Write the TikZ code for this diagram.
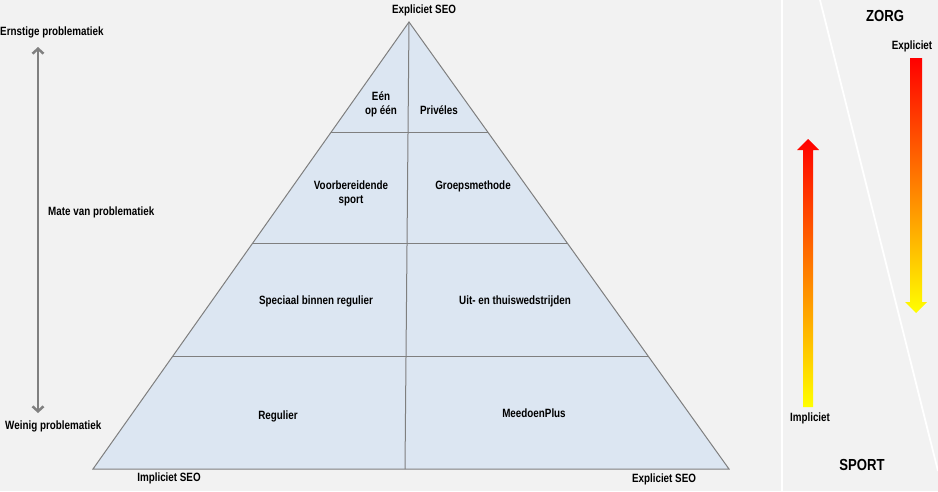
\documentclass[tikz,border=0pt]{standalone}
\usepackage{fontspec}
\setmainfont{Liberation Sans}[FakeStretch=0.82]
\usetikzlibrary{arrows.meta,calc}
\definecolor{bg}{HTML}{F2F2F2}
\definecolor{pyfill}{HTML}{DCE6F2}
\definecolor{pyline}{HTML}{7F7F7F}
\definecolor{arrgray}{HTML}{808080}
\begin{document}
\begin{tikzpicture}[x=1pt,y=-1pt,
  lbl/.style={font=\bfseries\fontsize{12}{14}\selectfont, inner sep=0pt, align=center, text=black},
  big/.style={font=\bfseries\fontsize{16}{18}\selectfont, inner sep=0pt, text=black},
  pline/.style={draw=pyline, line width=1pt},
  grad/.style={top color=red, bottom color=yellow, middle color=orange}]
\fill[bg] (0,0) rectangle (938,491);
\useasboundingbox (0,0) rectangle (938,491);
% white separators
\draw[white, line width=2.2pt] (782,0) -- (782,491);
\draw[white, line width=1.8pt] (820,0) -- (938,471);
% pyramid
\coordinate (A) at (409,22);
\coordinate (BL) at (93,469);
\coordinate (BR) at (729,469);
\coordinate (BC) at (405,469);
\fill[pyfill] (A) -- (BL) -- (BR) -- cycle;
\draw[pline] ($(A)!0.2483!(BL)$) -- ($(A)!0.2483!(BR)$);
\draw[pline] ($(A)!0.4966!(BL)$) -- ($(A)!0.4966!(BR)$);
\draw[pline] ($(A)!0.7472!(BL)$) -- ($(A)!0.7472!(BR)$);
\draw[pline] (A) -- (BC);
\draw[pline, line join=miter] (A) -- (BL) -- (BR) -- cycle;
% pyramid labels
\node[lbl] (een) at (381,104) {Eén\\op één};
\node[lbl] (prive) at (439,110) {Privéles};
\node[lbl] (voorb) at (351,193) {Voorbereidende\\sport};
\node[lbl] (groep) at (473,186) {Groepsmethode};
\node[lbl] (spec) at (316,301) {Speciaal binnen regulier};
\node[lbl] (uit) at (515,301) {Uit- en thuiswedstrijden};
\node[lbl] (reg) at (278,416) {Regulier};
\node[lbl] (meedoen) at (534,413) {MeedoenPlus};
\node[lbl] (topseo) at (424,10) {Expliciet SEO};
\node[lbl] (implseo) at (169,478) {Impliciet SEO};
\node[lbl] (explseo) at (664,479) {Expliciet SEO};
% left scale
\node[lbl, anchor=west] (ernst) at (0,32) {Ernstige problematiek};
\node[lbl, anchor=west] (mate) at (48,212) {Mate van problematiek};
\node[lbl, anchor=west] (weinig) at (5,426) {Weinig problematiek};
\coordinate (lt) at (38,47);
\coordinate (lb) at (38,413);
\draw[arrgray, line width=2.5pt, {Straight Barb[length=5pt,width=11pt]}-{Straight Barb[length=5pt,width=11pt]}] (lt) -- (lb);
% right side
\node[big] (zorg) at (885,16) {ZORG};
\node[big] (sport) at (862,465) {SPORT};
\node[lbl] (impl) at (810,418) {Impliciet};
\node[lbl] (expl) at (912,46) {Expliciet};
\shade[grad] (803,407) -- (803,150) -- (797,150) -- (808,139) -- (819,150) -- (813,150) -- (813,407) -- cycle;
\shade[grad] (910,58) -- (922,58) -- (922,302) -- (927,302) -- (916,313) -- (905,302) -- (910,302) -- cycle;
\end{tikzpicture}
\end{document}
